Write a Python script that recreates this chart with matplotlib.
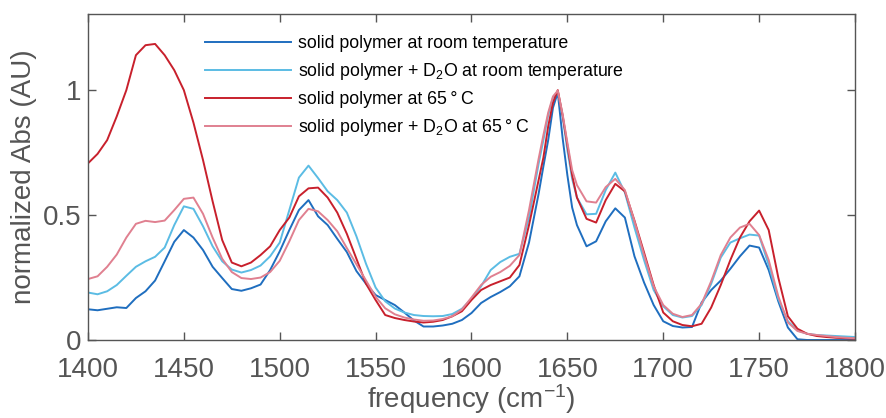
import matplotlib
matplotlib.use('Agg')
import matplotlib.pyplot as plt

plt.rcParams['font.family'] = ['Liberation Sans', 'DejaVu Sans']
plt.rcParams['mathtext.fontset'] = 'custom'
plt.rcParams['mathtext.rm'] = 'Liberation Sans'
plt.rcParams['mathtext.it'] = 'Liberation Sans'

# frequency grid (cm^-1), finer around the 1645 band
freq = list(range(1400, 1636, 5)) + [1637.5, 1640, 1642.5, 1645, 1647.5, 1650, 1652.5, 1655] + list(range(1660, 1801, 5))

solid_rt = [0.123, 0.119, 0.125, 0.131, 0.128, 0.168, 0.195, 0.238, 0.315, 0.393,
            0.44, 0.41, 0.36, 0.293, 0.248, 0.204, 0.197, 0.207, 0.222, 0.28,
            0.355, 0.44, 0.52, 0.56, 0.495, 0.46, 0.405, 0.352, 0.276, 0.225,
            0.18, 0.16, 0.14, 0.11, 0.078, 0.054, 0.054, 0.058, 0.065, 0.08,
            0.108, 0.148, 0.172, 0.192, 0.215, 0.255, 0.39, 0.585,
            0.695, 0.8, 0.93, 0.99, 0.81, 0.66, 0.53, 0.46,
            0.375, 0.395, 0.475, 0.527, 0.49, 0.335, 0.23, 0.14, 0.075, 0.056,
            0.05, 0.052, 0.15, 0.2, 0.238, 0.285, 0.335, 0.378, 0.37, 0.28,
            0.155, 0.05, 0.003, 0.0, 0.0, 0.0, 0.0, 0.0, 0.0]

d2o_rt = [0.19, 0.183, 0.195, 0.22, 0.257, 0.293, 0.315, 0.333, 0.37, 0.46,
          0.535, 0.525, 0.455, 0.375, 0.315, 0.282, 0.27, 0.28, 0.298, 0.335,
          0.39, 0.52, 0.65, 0.698, 0.648, 0.595, 0.56, 0.51, 0.415, 0.305,
          0.21, 0.155, 0.126, 0.11, 0.1, 0.096, 0.095, 0.096, 0.104, 0.125,
          0.165, 0.215, 0.28, 0.312, 0.333, 0.345, 0.49, 0.705,
          0.8, 0.9, 0.97, 0.995, 0.895, 0.76, 0.645, 0.57,
          0.503, 0.505, 0.6, 0.67, 0.59, 0.45, 0.32, 0.2, 0.135, 0.1,
          0.09, 0.096, 0.14, 0.225, 0.33, 0.39, 0.407, 0.422, 0.418, 0.3,
          0.165, 0.075, 0.038, 0.025, 0.02, 0.018, 0.016, 0.014, 0.012]

solid_65 = [0.707, 0.745, 0.8, 0.895, 1.0, 1.14, 1.18, 1.185, 1.14, 1.08,
            1.0, 0.87, 0.72, 0.555, 0.4, 0.31, 0.295, 0.31, 0.34, 0.375,
            0.44, 0.49, 0.575, 0.607, 0.61, 0.57, 0.51, 0.425, 0.325, 0.225,
            0.16, 0.1, 0.088, 0.08, 0.074, 0.07, 0.073, 0.08, 0.095, 0.115,
            0.16, 0.2, 0.22, 0.235, 0.25, 0.3, 0.46, 0.64,
            0.73, 0.855, 0.95, 1.0, 0.9, 0.78, 0.66, 0.57,
            0.485, 0.47, 0.56, 0.625, 0.595, 0.478, 0.35, 0.22, 0.11, 0.075,
            0.06, 0.055, 0.065, 0.13, 0.22, 0.32, 0.41, 0.475, 0.518, 0.44,
            0.25, 0.095, 0.045, 0.025, 0.016, 0.012, 0.009, 0.007, 0.005]

d2o_65 = [0.244, 0.255, 0.293, 0.342, 0.41, 0.465, 0.477, 0.472, 0.478, 0.52,
          0.565, 0.57, 0.505, 0.41, 0.325, 0.272, 0.248, 0.244, 0.25, 0.272,
          0.317, 0.395, 0.48, 0.525, 0.515, 0.48, 0.435, 0.368, 0.303, 0.238,
          0.173, 0.127, 0.103, 0.09, 0.082, 0.077, 0.078, 0.084, 0.095, 0.122,
          0.17, 0.22, 0.253, 0.272, 0.297, 0.34, 0.52, 0.725,
          0.82, 0.91, 0.975, 0.998, 0.905, 0.79, 0.68, 0.62,
          0.555, 0.55, 0.612, 0.645, 0.6, 0.475, 0.34, 0.215, 0.14, 0.105,
          0.092, 0.1, 0.145, 0.235, 0.34, 0.41, 0.45, 0.465, 0.42, 0.32,
          0.175, 0.07, 0.036, 0.025, 0.02, 0.016, 0.012, 0.009, 0.007]

labels = ['solid polymer at room temperature',
          'solid polymer + D$_2$O at room temperature',
          'solid polymer at 65\u2009°\u2009C',
          'solid polymer + D$_2$O at 65\u2009°\u2009C']
colors = ['#1f6ebf', '#5bbce4', '#c8202c', '#e08090']

fig = plt.figure(figsize=(8.86, 4.18), dpi=100)
ax = fig.add_axes([0.0993, 0.1866, 0.8657, 0.78])

for ys, lab, c in zip([solid_rt, d2o_rt, solid_65, d2o_65], labels, colors):
    ax.plot(freq, ys, color=c, lw=1.4, label=lab)

ax.set_xlim(1400, 1800)
ax.set_ylim(0, 1.305)
ax.set_xticks(range(1400, 1801, 50))
ax.set_yticks([0, 0.5, 1])
ax.set_yticklabels(['0', '0.5', '1'])

gray = '#555555'
for s in ax.spines.values():
    s.set_color(gray)
    s.set_linewidth(1.0)
ax.tick_params(direction='in', length=6, width=1.0, color=gray, labelcolor=gray,
               labelsize=20, top=True, right=True)
ax.tick_params(axis='x', pad=12)
ax.tick_params(axis='y', pad=5)

ax.set_xlabel('frequency (cm$^{-1}$)', fontsize=20, color=gray, labelpad=0)
ax.set_ylabel('normalized Abs (AU)', fontsize=20, color=gray, labelpad=4)

ax.legend(loc='upper left', bbox_to_anchor=(0.153, 0.935), frameon=False,
          fontsize=12.8, handlelength=4.8, handletextpad=0.4,
          labelspacing=0.5, borderaxespad=0, borderpad=0)

fig.savefig('out.png', dpi=100)
